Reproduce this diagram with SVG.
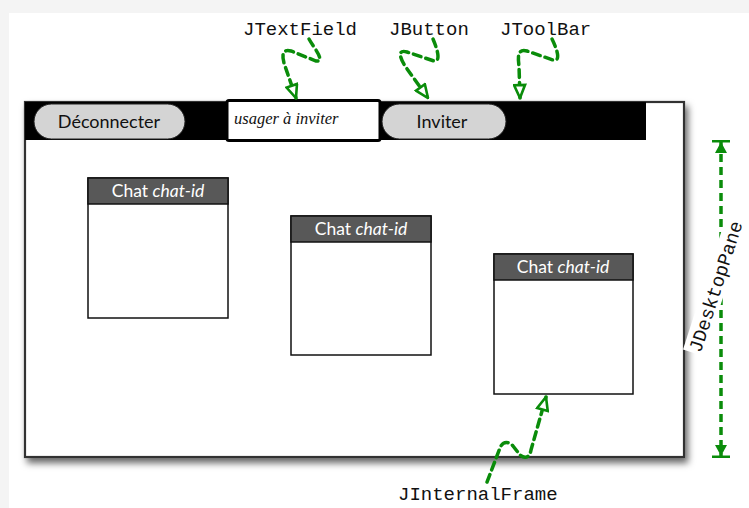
<svg xmlns="http://www.w3.org/2000/svg" width="749" height="508" viewBox="0 0 749 508">
  <defs>
    <filter id="shadow" x="-5%" y="-5%" width="115%" height="120%">
      <feDropShadow dx="3" dy="5" stdDeviation="3.5" flood-color="#000" flood-opacity="0.6"/>
    </filter>
    <marker id="hollow" viewBox="0 0 16 14" refX="15" refY="7" markerWidth="16" markerHeight="14" markerUnits="userSpaceOnUse" orient="auto">
      <path d="M2 1.5 L15 7 L2 12.5 Z" fill="#fff" stroke="#0a8c0a" stroke-width="2.6" stroke-linejoin="miter"/>
    </marker>
    <marker id="dimEnd" viewBox="0 0 14 20" refX="13" refY="10" markerWidth="14" markerHeight="20" markerUnits="userSpaceOnUse" orient="auto">
      <path d="M1 4 L12 10 L1 16 Z" fill="#0a8c0a"/>
      <rect x="11.5" y="1" width="2.5" height="18" fill="#0a8c0a"/>
    </marker>
    <marker id="dimStart" viewBox="0 0 14 20" refX="1" refY="10" markerWidth="14" markerHeight="20" markerUnits="userSpaceOnUse" orient="auto">
      <path d="M13 4 L2 10 L13 16 Z" fill="#0a8c0a"/>
      <rect x="0" y="1" width="2.5" height="18" fill="#0a8c0a"/>
    </marker>
  </defs>
  <style>
    .mono { font-family: "Liberation Mono", "Courier New", monospace; font-size: 19px; fill: #111; }
    .btn { fill: #d4d4d4; stroke: #222; stroke-width: 1; }
    .btnText { font-family: "Lato", "Liberation Sans", sans-serif; font-size: 18px; fill: #111; text-anchor: middle; }
    .frame { fill: #fff; stroke: #111; stroke-width: 1.5; }
    .title { fill: #585858; stroke: #111; stroke-width: 1.5; }
    .titleText { font-family: "Lato", "Liberation Sans", sans-serif; font-size: 17.5px; fill: #fff; text-anchor: middle; }
    .link { fill: none; stroke: #0a8c0a; stroke-width: 3.5; stroke-dasharray: 8 5; stroke-linecap: round; }
    .dim { fill: none; stroke: #0a8c0a; stroke-width: 3.5; stroke-dasharray: 8 5; }
  </style>

  <!-- page background -->
  <rect x="0" y="0" width="749" height="508" fill="#f4f4f4"/>
  <rect x="9" y="13" width="740" height="495" fill="#fff"/>

  <!-- application window -->
  <g id="window">
    <rect x="25" y="102" width="659" height="355" fill="#fff" stroke="#333" stroke-width="2.2" filter="url(#shadow)"/>
    <rect x="25" y="102" width="621" height="38" fill="#000"/>
  </g>

  <g id="btn-deconnecter">
    <rect class="btn" x="34" y="104" width="151" height="35" rx="17.5"/>
    <text class="btnText" x="109" y="128">Déconnecter</text>
  </g>

  <g id="textfield">
    <rect x="227" y="100.5" width="153" height="40" rx="2" fill="#fff" stroke="#000" stroke-width="3"/>
    <text x="234" y="124" font-family="Liberation Serif, Times New Roman, serif" font-style="italic" font-size="16.5" fill="#111">usager à inviter</text>
  </g>

  <g id="btn-inviter">
    <rect class="btn" x="382" y="104" width="124" height="35" rx="17.5"/>
    <text class="btnText" x="442" y="128">Inviter</text>
  </g>

  <g id="chat1">
    <rect class="frame" x="88" y="178" width="140" height="140"/>
    <rect class="title" x="88" y="178" width="140" height="26"/>
    <text class="titleText" x="158" y="197">Chat <tspan font-style="italic">chat-id</tspan></text>
  </g>

  <g id="chat2">
    <rect class="frame" x="291" y="216" width="140" height="139"/>
    <rect class="title" x="291" y="216" width="140" height="26"/>
    <text class="titleText" x="361" y="235">Chat <tspan font-style="italic">chat-id</tspan></text>
  </g>

  <g id="chat3">
    <rect class="frame" x="494" y="254" width="139" height="140"/>
    <rect class="title" x="494" y="254" width="139" height="26"/>
    <text class="titleText" x="563" y="273">Chat <tspan font-style="italic">chat-id</tspan></text>
  </g>

  <!-- labels -->
  <g id="label-jtextfield"><text class="mono" x="243" y="35">JTextField</text></g>
  <g id="label-jbutton"><text class="mono" x="389" y="35">JButton</text></g>
  <g id="label-jtoolbar"><text class="mono" x="500" y="35">JToolBar</text></g>
  <g id="label-jinternalframe"><text class="mono" x="398" y="500">JInternalFrame</text></g>

  <!-- connectors -->
  <g id="connectors">
    <path class="link" marker-end="url(#hollow)" d="M309 39 C314 48 326 62 316 61 L291 51 C281 48 282 58 285 66 L296 98"/>
    <path class="link" marker-end="url(#hollow)" d="M433 39 C436 46 442 62 434 61 L407 52 C397 49 400 58 405 66 L428 98"/>
    <path class="link" marker-end="url(#hollow)" d="M552 39 C556 47 562 62 553 60 L527 51 C517 48 518 58 519 66 L520 98"/>
    <path class="link" marker-end="url(#hollow)" d="M487 482 L500 448 C503 440 510 442 513 446 L520 455 C526 460 530 456 531 450 L546 397"/>
    <path class="dim" marker-start="url(#dimStart)" marker-end="url(#dimEnd)" d="M721 141 L721 457"/>
  </g>

  <g id="label-jdesktoppane" transform="translate(717 287) rotate(-72)">
    <rect x="-70" y="-13" width="140" height="22" fill="#fff"/>
    <text class="mono" font-size="18" text-anchor="middle" x="0" y="5">JDesktopPane</text>
  </g>
</svg>
